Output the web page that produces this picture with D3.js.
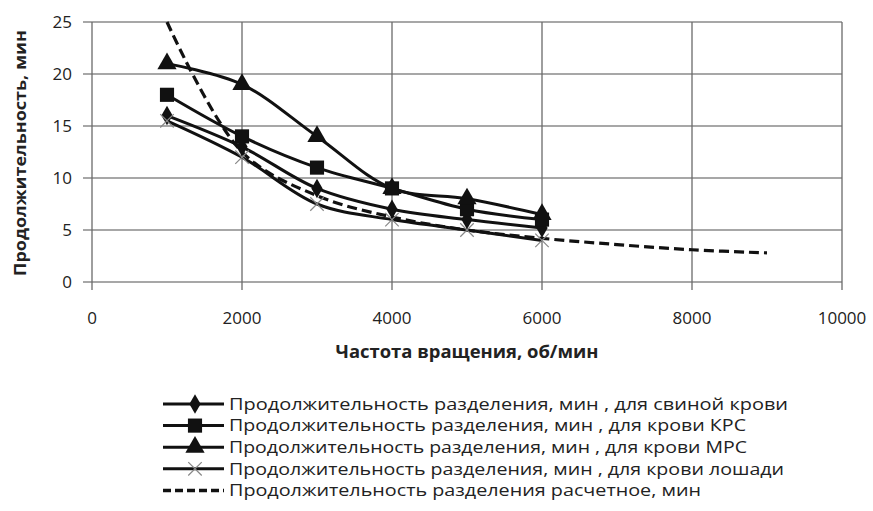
<!DOCTYPE html>
<html>
<head>
<meta charset="utf-8">
<script src="https://cdn.jsdelivr.net/npm/d3@7"></script>
<style>
  body { margin: 0; background: #fff; }
  svg text { font-family: "Open Sans", sans-serif; fill: #222; }
</style>
</head>
<body>
<svg id="chart" width="873" height="511"></svg>
<script>
// values
const rpm = [1000, 2000, 3000, 4000, 5000, 6000];
const pigBlood = [16, 13, 9, 7, 6, 5.2];
const krsBlood = [18, 14, 11, 9, 7, 6];
const mrsBlood = [21, 19, 14, 9, 8, 6.5];
const horseBlood = [15.5, 12, 7.5, 6, 5, 4];
const calcRpm = [1000, 2000, 3000, 4000, 5000, 6000, 7000, 8000, 9000];
const calcTime = [25, 12.5, 8.3, 6.25, 5, 4.2, 3.6, 3.1, 2.8];
const xTicks = [0, 2000, 4000, 6000, 8000, 10000];
const yTicks = [0, 5, 10, 15, 20, 25];

const legendNames = [
  "Продолжительность разделения, мин , для свиной крови",
  "Продолжительность разделения, мин , для крови КРС",
  "Продолжительность разделения, мин , для крови МРС",
  "Продолжительность разделения, мин , для крови лошади",
  "Продолжительность разделения расчетное, мин"
];
// widths the legend labels take in the reference
const legendWidths = [559, 517, 518, 555, 472];

const svg = d3.select('#chart');
const margin = {top: 22, left: 92, right: 31, bottom: 229};
const width = 873 - margin.left - margin.right;
const height = 511 - margin.top - margin.bottom;

const g = svg.append('g').attr('transform', 'translate(' + margin.left + ',' + margin.top + ')');

const x = d3.scaleLinear().domain([0, 10000]).range([0, width]);
const y = d3.scaleLinear().domain([0, 25]).range([height, 0]);

/* grid lines */
g.append('g').selectAll('line').data(yTicks).enter().append('line')
  .attr('x1', -9).attr('x2', width)
  .attr('y1', d => y(d)).attr('y2', d => y(d))
  .attr('stroke', '#8a8a8a').attr('stroke-width', 1.3);
g.append('g').selectAll('line').data(xTicks).enter().append('line')
  .attr('x1', d => x(d)).attr('x2', d => x(d))
  .attr('y1', 0).attr('y2', height + 8)
  .attr('stroke', '#6a6a6a').attr('stroke-width', 1.3);

/* tick labels */
g.append('g').selectAll('text').data(xTicks).enter().append('text')
  .attr('x', d => x(d)).attr('y', height + 42)
  .attr('text-anchor', 'middle').attr('font-size', 17)
  .text(d => d);
g.append('g').selectAll('text').data(yTicks).enter().append('text')
  .attr('x', -20).attr('y', d => y(d)).attr('dy', '0.35em')
  .attr('text-anchor', 'end').attr('font-size', 17)
  .text(d => d);

/* axis titles */
svg.append('text')
  .attr('x', 467).attr('y', 358)
  .attr('text-anchor', 'middle').attr('font-size', 17).attr('font-weight', 'bold')
  .attr('textLength', 263).attr('lengthAdjust', 'spacingAndGlyphs')
  .text('Частота вращения, об/мин');
svg.append('text')
  .attr('transform', 'translate(26,153) rotate(-90)')
  .attr('text-anchor', 'middle').attr('font-size', 16).attr('font-weight', 'bold')
  .attr('textLength', 246).attr('lengthAdjust', 'spacingAndGlyphs')
  .text('Продолжительность, мин');

const series = [
  {vals: pigBlood, marker: 'diamond'},
  {vals: krsBlood, marker: 'square'},
  {vals: mrsBlood, marker: 'triangle'},
  {vals: horseBlood, marker: 'cross'}
];

const line = d3.line()
  .x(d => x(d[0])).y(d => y(d[1]))
  .curve(d3.curveCatmullRom.alpha(0.5));

const symbols = {
  diamond: d3.symbol().type(d3.symbolDiamond).size(110),
  square: d3.symbol().type(d3.symbolSquare).size(200),
  triangle: d3.symbol().type(d3.symbolTriangle).size(160),
  cross: d3.symbol().type(d3.symbolX).size(120)
};

function drawMarker(sel, type) {
  if (type === 'cross') {
    sel.append('path').attr('d', symbols.cross())
      .attr('fill', 'none').attr('stroke', '#888').attr('stroke-width', 1.2);
  } else {
    sel.append('path').attr('d', symbols[type]()).attr('fill', '#111');
  }
}

/* calculated dashed curve */
g.append('path')
  .datum(calcRpm.map((r, i) => [r, calcTime[i]]))
  .attr('d', line)
  .attr('fill', 'none').attr('stroke', '#111').attr('stroke-width', 3.2)
  .attr('stroke-dasharray', '10,5');

series.forEach(s => {
  const pts = rpm.map((r, i) => [r, s.vals[i]]);
  g.append('path').datum(pts).attr('d', line)
    .attr('fill', 'none').attr('stroke', '#111').attr('stroke-width', 3);
  pts.forEach(p => {
    const m = g.append('g').attr('transform', 'translate(' + x(p[0]) + ',' + y(p[1]) + ')');
    drawMarker(m, s.marker);
  });
});

/* legend */
const legend = svg.append('g').attr('transform', 'translate(163,404)');
legendNames.forEach((name, i) => {
  const row = legend.append('g').attr('transform', 'translate(0,' + (i * 21.6) + ')');
  const ln = row.append('line').attr('x1', 0).attr('x2', 61).attr('y1', 0).attr('y2', 0)
    .attr('stroke', '#111').attr('stroke-width', 3);
  if (i < 4) {
    const m = row.append('g').attr('transform', 'translate(32,0)');
    drawMarker(m, series[i].marker);
  } else {
    ln.attr('stroke-dasharray', '8,4').attr('stroke-width', 3.5);
  }
  row.append('text').attr('x', 66).attr('y', 0).attr('dy', '0.35em')
    .attr('font-size', 16.5)
    .attr('textLength', legendWidths[i]).attr('lengthAdjust', 'spacingAndGlyphs')
    .text(name);
});
</script>
</body>
</html>
